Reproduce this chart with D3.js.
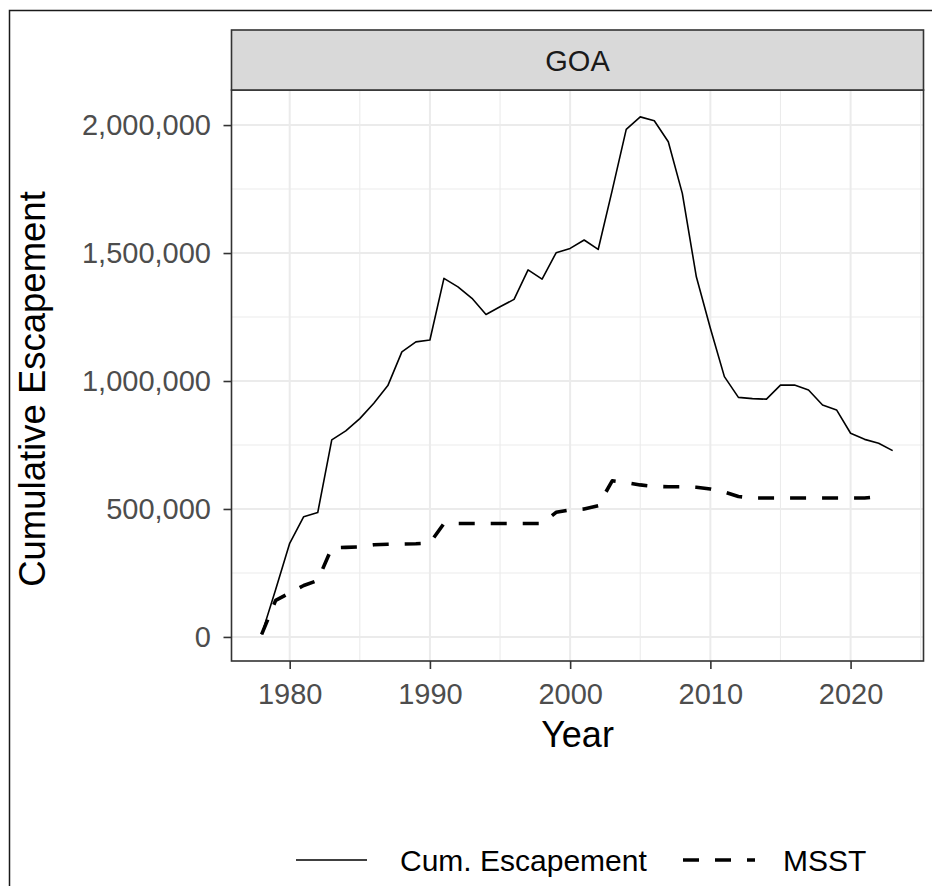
<!DOCTYPE html>
<html><head><meta charset="utf-8">
<script src="https://cdn.jsdelivr.net/npm/d3@7"></script>
<style>
body{margin:0;background:#fff}
svg{display:block}
text{font-family:"Liberation Sans",Arial,Helvetica,sans-serif}
</style>
</head><body>
<svg id="chart" width="932" height="886"></svg>
<script>
// ---- data ----
const years = [1978,1979,1980,1981,1982,1983,1984,1985,1986,1987,1988,1989,1990,1991,1992,1993,1994,1995,1996,1997,1998,1999,2000,2001,2002,2003,2004,2005,2006,2007,2008,2009,2010,2011,2012,2013,2014,2015,2016,2017,2018,2019,2020,2021,2022,2023];
const cumEscapement = [10000,185000,366000,470000,486000,770000,805000,853000,913000,982000,1114000,1153000,1160000,1401000,1368000,1323000,1260000,1290000,1319000,1434000,1398000,1501000,1518000,1551000,1514000,1745000,1983000,2032000,2017000,1935000,1733000,1407000,1206000,1017000,936000,931000,929000,984000,984000,965000,906000,887000,796000,772000,757000,728000];
const msstYears = [1978,1979,1980,1981,1982,1983,1984,1985,1986,1987,1988,1989,1990,1991,1992,1993,1994,1995,1996,1997,1998,1999,2000,2001,2002,2003,2004,2005,2006,2007,2008,2009,2010,2011,2012,2013,2014,2015,2016,2017,2018,2019,2020,2021,2022];
const msst = [10000,143000,172000,201000,221000,348000,350000,352000,360000,362000,363000,364000,367000,443000,443000,443000,443000,443000,443000,443000,443000,487000,496000,500000,513000,610000,603000,594000,588000,587000,587000,585000,578000,566000,549000,543000,543000,543000,543000,543000,543000,543000,543000,543000,548000];
const xTicks = [1980,1990,2000,2010,2020];
const xMinorTicks = [1985,1995,2005,2015,2025];
const yTicks = [0,500000,1000000,1500000,2000000];
const yMinorTicks = [250000,750000,1250000,1750000];
const panelLabel = "GOA";
const xTitle = "Year";
const yTitle = "Cumulative Escapement";
const seriesNames = ["Cum. Escapement","MSST"];

// ---- layout ----
const svg = d3.select("#chart");
const L = 231.5, R = 923.5, T = 90, B = 661;
const x = d3.scaleLinear().domain([1975.85, 2025.2]).range([L, R]);
const y = d3.scaleLinear().domain([-94000, 2137000]).range([B, T]);

// outer frame
svg.append("path").attr("d","M9.5,886V10.5H932").attr("fill","none").attr("stroke","#1a1a1a").attr("stroke-width",1.5);

// panel background
svg.append("rect").attr("x",L).attr("y",T).attr("width",R-L).attr("height",B-T).attr("fill","#fff");

const grid = svg.append("g");
const clipX = xMinorTicks.filter(d => x(d) > L && x(d) < R);
grid.selectAll(".vmin").data(clipX).join("line")
  .attr("x1",d=>x(d)).attr("x2",d=>x(d)).attr("y1",T).attr("y2",B)
  .attr("stroke","#ebebeb").attr("stroke-width",1.1);
grid.selectAll(".hmin").data(yMinorTicks).join("line")
  .attr("y1",d=>y(d)).attr("y2",d=>y(d)).attr("x1",L).attr("x2",R)
  .attr("stroke","#ebebeb").attr("stroke-width",1.1);
grid.selectAll(".vmaj").data(xTicks).join("line")
  .attr("x1",d=>x(d)).attr("x2",d=>x(d)).attr("y1",T).attr("y2",B)
  .attr("stroke","#ebebeb").attr("stroke-width",2);
grid.selectAll(".hmaj").data(yTicks).join("line")
  .attr("y1",d=>y(d)).attr("y2",d=>y(d)).attr("x1",L).attr("x2",R)
  .attr("stroke","#ebebeb").attr("stroke-width",2);

// lines
const escData = years.map((yr,i)=>({year:yr, v:cumEscapement[i]}));
const msstData = msstYears.map((yr,i)=>({year:yr, v:msst[i]}));
const line = d3.line().x(d=>x(d.year)).y(d=>y(d.v));
svg.append("path").datum(escData).attr("d",line)
  .attr("fill","none").attr("stroke","#000").attr("stroke-width",1.6).attr("stroke-linejoin","round");
svg.append("path").datum(msstData).attr("d",line)
  .attr("fill","none").attr("stroke","#000").attr("stroke-width",3.6)
  .attr("stroke-dasharray","16,16").attr("stroke-linejoin","round");

// panel border
svg.append("rect").attr("x",L).attr("y",T).attr("width",R-L).attr("height",B-T)
  .attr("fill","none").attr("stroke","#333").attr("stroke-width",1.6);

// strip
svg.append("rect").attr("x",L).attr("y",30).attr("width",R-L).attr("height",T-30)
  .attr("fill","#d9d9d9").attr("stroke","#333").attr("stroke-width",1.6);
svg.append("text").attr("x",(L+R)/2).attr("y",71).attr("text-anchor","middle")
  .attr("font-size",29).attr("fill","#1a1a1a").text(panelLabel);

// axes
const xAxis = svg.append("g").attr("transform",`translate(0,${B})`)
  .call(d3.axisBottom(x).tickValues(xTicks).tickFormat(d3.format("d")).tickSize(8).tickPadding(14));
const yAxis = svg.append("g").attr("transform",`translate(${L},0)`)
  .call(d3.axisLeft(y).tickValues(yTicks).tickFormat(d3.format(",")).tickSize(8).tickPadding(12.5));
[xAxis,yAxis].forEach(g=>{
  g.select(".domain").remove();
  g.selectAll(".tick line").attr("stroke","#333").attr("stroke-width",1.6);
  g.selectAll(".tick text").attr("font-size",29).attr("fill","#4d4d4d")
    .attr("font-family","'Liberation Sans',Arial,sans-serif");
});

// titles
svg.append("text").attr("x",(L+R)/2).attr("y",747).attr("text-anchor","middle")
  .attr("font-size",36).attr("fill","#000").text(xTitle);
svg.append("text").attr("transform","translate(45,389) rotate(-90)").attr("text-anchor","middle")
  .attr("font-size",36.5).attr("fill","#000").text(yTitle);

// legend
const lg = svg.append("g");
lg.append("line").attr("x1",296).attr("x2",367).attr("y1",860).attr("y2",860)
  .attr("stroke","#000").attr("stroke-width",1.6);
lg.append("text").attr("x",400).attr("y",871).attr("font-size",30).attr("fill","#000").text(seriesNames[0]);
lg.append("line").attr("x1",683).attr("x2",755).attr("y1",860).attr("y2",860)
  .attr("stroke","#000").attr("stroke-width",3.6).attr("stroke-dasharray","16,16");
lg.append("text").attr("x",783).attr("y",871).attr("font-size",30).attr("fill","#000").text(seriesNames[1]);
</script>
</body></html>
